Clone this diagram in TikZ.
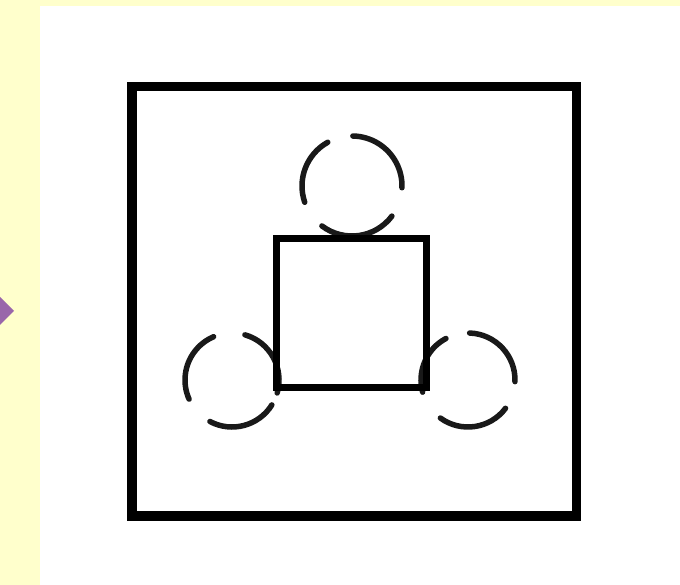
\documentclass[tikz,border=0pt]{standalone}
\usetikzlibrary{calc}
\definecolor{bgyellow}{RGB}{255,255,204}
\definecolor{mauve}{RGB}{153,102,170}
\begin{document}
\begin{tikzpicture}[x=1pt,y=-1pt,
  frame/.style={draw=black,line width=9.5pt,line join=miter},
  box/.style={draw=black,line width=7pt,line join=miter},
  dasharc/.style={draw=black!90,line width=5.5pt,line cap=round}]
\useasboundingbox (0,0) rectangle (680,585);
\fill[bgyellow] (0,0) rectangle (680,585);
\fill[white] (40,6) rectangle (680,585);
\fill[mauve] (0,297) -- (14,311) -- (0,325) -- cycle;
% outer frame
\draw[frame] (132,86.5) rectangle (576.5,516);
% dashed circles
\coordinate (ct) at (352,186);
\coordinate (cl) at (232,380);
\coordinate (cr) at (468,380);
\foreach \a/\b in {-2/89, -127/-37, 119/199}
  \draw[dasharc] ($(ct)+(\a:50 and -50)$) arc[start angle=\a, end angle=\b, x radius=50, y radius=-50];
\foreach \a/\b in {113/204, 242/328, -16/74}
  \draw[dasharc] ($(cl)+(\a:47 and -47)$) arc[start angle=\a, end angle=\b, x radius=47, y radius=-47];
\foreach \a/\b in {-2/88, -126/-37, 118/195}
  \draw[dasharc] ($(cr)+(\a:47 and -47)$) arc[start angle=\a, end angle=\b, x radius=47, y radius=-47];
% inner square
\node[box,minimum width=150pt,minimum height=148.5pt,inner sep=0pt,outer sep=0pt] (sq) at (351,312.75) {};
\end{tikzpicture}
\end{document}
